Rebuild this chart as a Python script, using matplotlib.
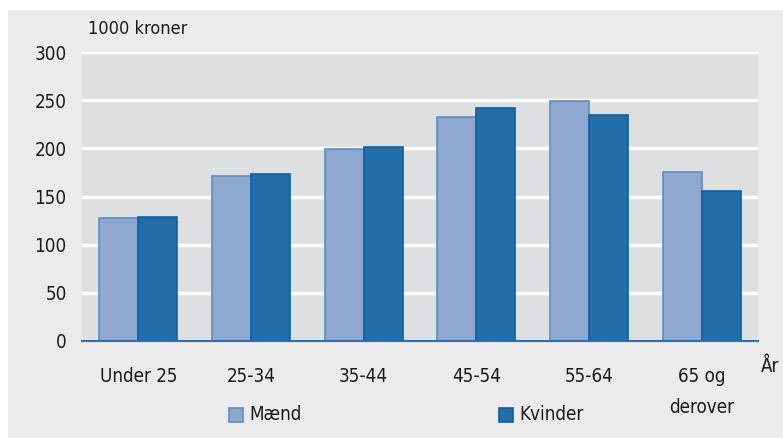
import matplotlib
matplotlib.use("Agg")
import matplotlib.pyplot as plt
import numpy as np
from matplotlib.patches import Rectangle

categories = ["Under 25", "25-34", "35-44", "45-54", "55-64", "65 og\nderover"]
maend = [128, 171, 199, 233, 249, 175]
kvinder = [129, 173, 201, 242, 235, 156]
yticks = [0, 50, 100, 150, 200, 250, 300]

plt.rcParams['font.family'] = ['DejaVu Sans']
plt.rcParams['font.stretch'] = 'condensed'

W, H = 783, 438
fig = plt.figure(figsize=(W/100, H/100), dpi=100, facecolor='white')
fig.patches.append(Rectangle((8/W, 0), 1-8/W, 1-10/H, transform=fig.transFigure,
                             facecolor='#ebebed', edgecolor='none', zorder=-10))

ax = fig.add_axes([82/W, 1-341/H, (758-82)/W, (341-52)/H])
ax.set_zorder(1)
ax.set_facecolor('#dedfe1')
x = np.arange(len(categories))
bw = 0.346
ax.bar(x - bw/2, maend, bw, color='#8fa8cf', edgecolor='#5b8fc0', linewidth=1.2, zorder=3, label='Mænd')
ax.bar(x + bw/2, kvinder, bw, color='#236ea9', edgecolor='#0f5f9f', linewidth=1.2, zorder=3, label='Kvinder')
ax.set_xlim(-0.5, len(categories)-0.5)
ax.set_ylim(0, 300)
ax.set_yticks(yticks)
ax.yaxis.grid(True, color='white', linewidth=2.5, zorder=1)
ax.set_axisbelow(True)
for s in ['top', 'right', 'left']:
    ax.spines[s].set_visible(False)
ax.spines['bottom'].set_color('#2a6fb0')
ax.spines['bottom'].set_linewidth(1.5)
ax.spines['bottom'].set_zorder(4)
ax.tick_params(axis='y', length=0, labelsize=13.5, pad=11, colors='#1a1a1a')
ax.tick_params(axis='x', length=0, labelsize=13.5, pad=19, colors='#1a1a1a')
ax.set_xticks(x)
ax.set_xticklabels(categories, va='top', linespacing=1.75)

fig.text(88/W, 1-29/H, "1000 kroner", fontsize=13, va='center', ha='left', color='#1a1a1a')
fig.text(761/W, 1-366/H, "År", fontsize=13.5, va='center', ha='left', color='#1a1a1a')

# legend
for (lx, lab, fc, ec) in [(229, 'Mænd', '#8fa8cf', '#5b8fc0'), (499, 'Kvinder', '#236ea9', '#0f5f9f')]:
    fig.patches.append(Rectangle((lx/W, 1-422/H), 14/W, 14/H, transform=fig.transFigure,
                                 facecolor=fc, edgecolor=ec, linewidth=1.2, zorder=2))
    fig.text((lx+20)/W, 1-415/H, lab, fontsize=13.5, va='center', ha='left', color='#1a1a1a')

fig.savefig('out.png', dpi=100, facecolor=fig.get_facecolor())
